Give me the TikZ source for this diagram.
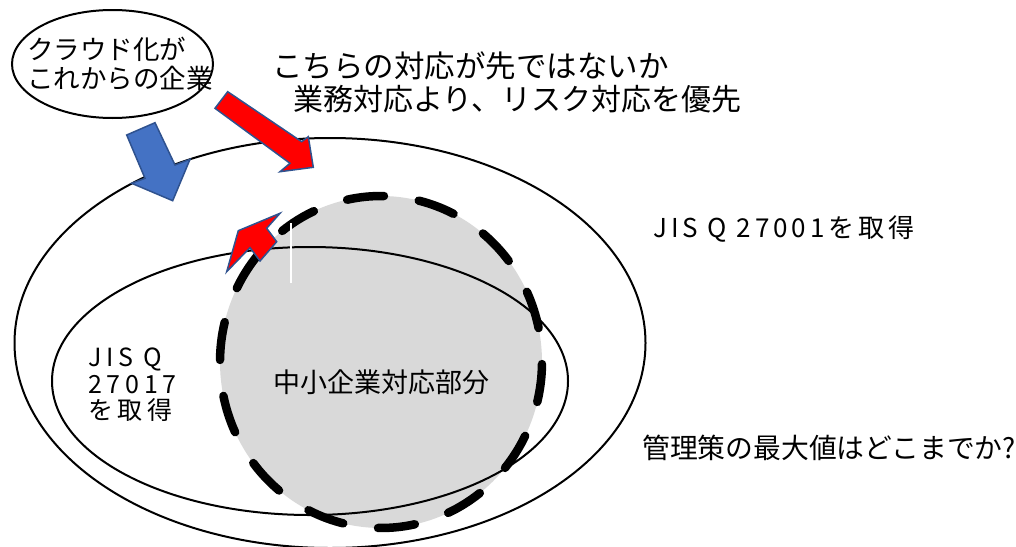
\documentclass[tikz,border=0pt]{standalone}
\usepackage{fontspec}
\usetikzlibrary{shapes.geometric}
\setmainfont{Noto Sans CJK JP}
\newfontfamily\jpwide{Noto Sans CJK JP}[LetterSpace=15]
\newfontfamily\jpwider{Noto Sans CJK JP}[LetterSpace=19]
\definecolor{shapeline}{HTML}{2F528F}
\definecolor{bluefill}{HTML}{4472C4}
\definecolor{grayfill}{HTML}{D9D9D9}
\begin{document}
\begin{tikzpicture}[x=1pt,y=-1pt,
  ring/.style={draw=black, line width=2pt},
  dashseg/.style={draw=black, line width=8.5pt, line cap=round},
  blockarrow/.style={draw=shapeline, line width=1.5pt, line join=miter},
  lbl/.style={inner sep=0pt, anchor=west, align=left, text=black}]
\useasboundingbox (0,0) rectangle (1016,546);
\clip (0,0) rectangle (1016,546);
\fill[white] (0,0) rectangle (1016,546);

% gray central region
\coordinate (C) at (381,362);
\fill[grayfill] (C) ellipse [x radius=161pt, y radius=166pt];

% outer and inner ellipses
\coordinate (outerc) at (330,343);
\draw[ring] (outerc) ellipse [x radius=315.5pt, y radius=205pt];
\coordinate (innerc) at (310,381);
\draw[ring] (innerc) ellipse [x radius=258pt, y radius=134pt];

% thick dashed border of the central region
\foreach \k in {0,...,13} {
  \pgfmathsetmacro\s{11.8+25.714*\k}
  \pgfmathsetmacro\e{\s+13.2}
  \draw[dashseg] ([shift={(\s:161pt and 166pt)}]C) arc[start angle=\s, end angle=\e, x radius=161pt, y radius=166pt];
}

% small red arrow
\draw[blockarrow, fill=red] (238.3,230.7) -- (280,213.3) -- (266.7,228.3) -- (276.7,241.7)
  -- (260,261) -- (250,247.6) -- (226.7,271.7) -- cycle;
% white mark
\draw[white, line width=2pt] (291,223) -- (291,283);

% top-left ellipse
\node[draw=black, line width=2pt, ellipse, minimum width=201pt, minimum height=108pt, inner sep=0pt] (cloud) at (112.5,64) {};
\node[lbl, font=\fontsize{26.5}{28.5}\selectfont] (cloudtxt) at (27,64) {クラウド化が\\これからの企業};

% blue arrow
\draw[blockarrow, fill=bluefill] (155,122.7) -- (175,165) -- (190,159.3) -- (172.7,200.7)
  -- (131.7,183.3) -- (145,178.3) -- (126.7,135) -- cycle;
% big red arrow
\draw[blockarrow, fill=red] (227.7,91.7) -- (301.7,141.7) -- (308.3,136.7) -- (313.3,167.3)
  -- (280,171.7) -- (290,163.3) -- (215,108.3) -- cycle;

% texts
\node[lbl, font=\fontsize{30.5}{33}\selectfont] (title1) at (272,66) {こちらの対応が先ではないか};
\node[lbl, font=\fontsize{30}{33}\selectfont] (title2) at (293,99) {業務対応より、リスク対応を優先};
\node[lbl, font=\jpwide\fontsize{26}{28}\selectfont] (jis27001) at (653,229) {JIS Q 27001を取得};
\node[lbl, font=\jpwider\fontsize{25}{26.5}\selectfont] (jis27017) at (88,385) {JIS Q\\27017\\を取得};
\node[inner sep=0pt, font=\fontsize{27}{30}\selectfont] (core) at (381.5,382) {中小企業対応部分};
\node[lbl, font=\fontsize{27.8}{30}\selectfont] (question) at (642,448) {管理策の最大値はどこまでか?};
\end{tikzpicture}
\end{document}
